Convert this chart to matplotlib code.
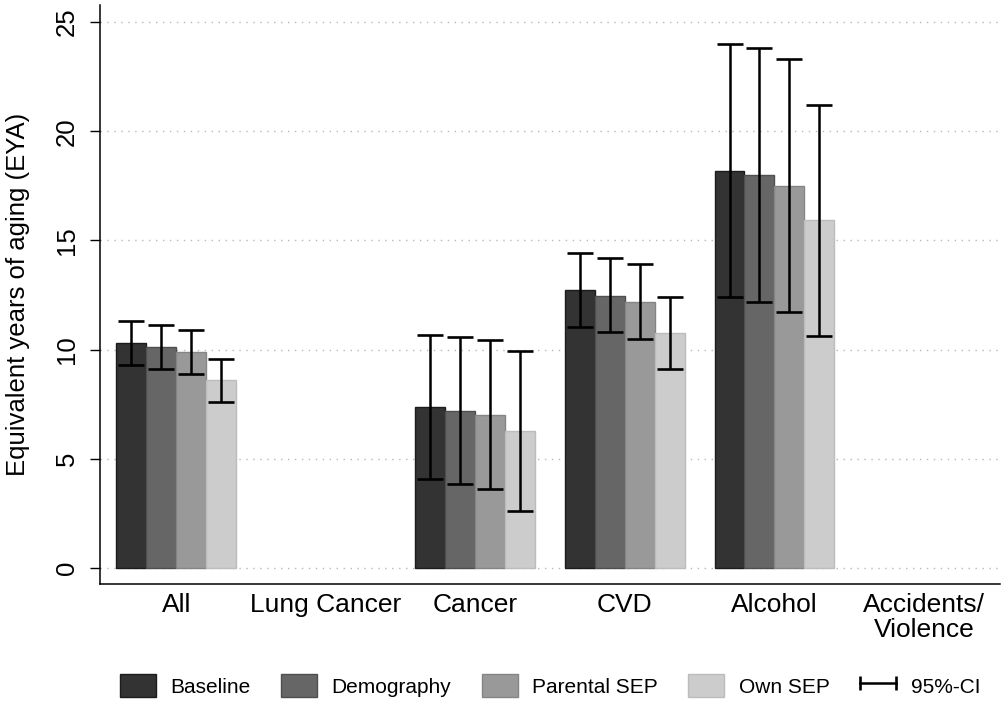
import matplotlib.pyplot as plt
import numpy as np
from matplotlib.patches import Patch
from matplotlib.lines import Line2D
from matplotlib.legend_handler import HandlerLine2D

plt.rcParams['font.family'] = ['Liberation Sans', 'DejaVu Sans']

# Categories and models
categories = ['All', 'Lung Cancer', 'Cancer', 'CVD', 'Alcohol', 'Accidents/\nViolence']
models = ['Baseline', 'Demography', 'Parental SEP', 'Own SEP']

# Estimates (EYA) per model; NaN = not shown
baseline = [10.30, np.nan, 7.36, 12.73, 18.19, np.nan]
demography = [10.10, np.nan, 7.17, 12.47, 18.01, np.nan]
parental = [9.88, np.nan, 7.02, 12.19, 17.50, np.nan]
own_sep = [8.60, np.nan, 6.29, 10.76, 15.92, np.nan]

# 95% confidence intervals
baseline_lo = [9.28, np.nan, 4.06, 11.03, 12.41, np.nan]
baseline_hi = [11.31, np.nan, 10.67, 14.44, 24.01, np.nan]
demography_lo = [9.09, np.nan, 3.83, 10.79, 12.19, np.nan]
demography_hi = [11.13, np.nan, 10.56, 14.18, 23.80, np.nan]
parental_lo = [8.87, np.nan, 3.60, 10.50, 11.71, np.nan]
parental_hi = [10.89, np.nan, 10.45, 13.90, 23.32, np.nan]
own_sep_lo = [7.60, np.nan, 2.62, 9.13, 10.62, np.nan]
own_sep_hi = [9.57, np.nan, 9.94, 12.41, 21.19, np.nan]

values = [baseline, demography, parental, own_sep]
lows = [baseline_lo, demography_lo, parental_lo, own_sep_lo]
highs = [baseline_hi, demography_hi, parental_hi, own_sep_hi]

fills = ['#333333', '#666666', '#999999', '#cccccc']
edges = ['#1c1c1c', '#4f4f4f', '#858585', '#bcbcbc']

fig = plt.figure(figsize=(10.01, 7.05), dpi=100)
ax = fig.add_axes([0.0995, 0.1712, 0.9, 0.8217])

x = np.arange(len(categories))
width = 0.2

for j in range(4):
    pos = x + (j - 1.5) * width
    v = np.array(values[j])
    ax.bar(pos, v, width=width, color=fills[j], edgecolor=edges[j],
           linewidth=1, zorder=2)
    lo = np.array(lows[j])
    hi = np.array(highs[j])
    ax.errorbar(pos, v, yerr=[v - lo, hi - v], fmt='none', ecolor='black',
                elinewidth=1.8, capsize=9.4, capthick=1.9, zorder=3)

ax.set_xlim(-0.512, 5.512)
ax.set_ylim(-0.746, 25.78)

# Grid lines
ax.set_yticks([0, 5, 10, 15, 20, 25])
ax.yaxis.grid(True, linestyle=(0, (1, 4)), color='#b8b8b8', linewidth=1, zorder=0)
ax.set_axisbelow(True)

ax.set_xticks(x)
ax.set_xticklabels(categories, fontsize=19, linespacing=1.05)
ax.tick_params(axis='x', length=0, pad=6)
ax.tick_params(axis='y', length=7, width=1, pad=8, labelsize=18.5)
for lab in ax.get_yticklabels():
    lab.set_rotation(90)
    lab.set_va('center')

ax.set_ylabel('Equivalent years of aging (EYA)', fontsize=18.5, labelpad=18)

ax.spines['top'].set_visible(False)
ax.spines['right'].set_visible(False)
ax.spines['left'].set_linewidth(1.1)
ax.spines['bottom'].set_linewidth(1.1)

# Legend
handles = [Patch(facecolor=fills[j], edgecolor=edges[j], linewidth=1) for j in range(4)]
ci_handle = Line2D([], [], color='black', lw=1.8, marker='|', markersize=10,
                   markeredgewidth=1.9)
handles.append(ci_handle)
labels = models + ['95%-CI']
ax.legend(handles, labels, loc='center', bbox_to_anchor=(0.5, -0.175), ncol=5,
          frameon=False, fontsize=15, numpoints=2, handlelength=1.73,
          handleheight=1.3, handletextpad=0.7, columnspacing=1.45,
          handler_map={ci_handle: HandlerLine2D(marker_pad=0, numpoints=2)})

fig.savefig('out.png', dpi=100)
